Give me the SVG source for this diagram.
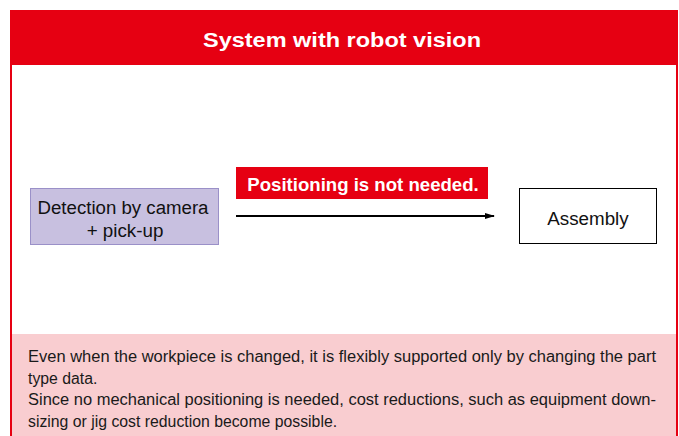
<svg xmlns="http://www.w3.org/2000/svg" width="679" height="436" viewBox="0 0 679 436">
<style>
text{font-family:"Liberation Sans",Arial,sans-serif}
.title{font-size:20px;font-weight:bold;fill:#fff}
.node{font-size:18.8px;fill:#111}
.lbl{font-size:18.6px;font-weight:bold;fill:#fff}
.body{font-size:15.8px;fill:#1a1a1a}
</style>
<defs>
<marker id="ah" markerWidth="10" markerHeight="8" refX="9" refY="4" orient="auto" markerUnits="userSpaceOnUse">
<path d="M0,1 L10,4 L0,7 Z" fill="#000"/>
</marker>
</defs>
<rect x="0" y="0" width="679" height="436" fill="#fff"/>
<g id="frame">
<rect x="11" y="11" width="666" height="440" fill="#fff" stroke="#E60012" stroke-width="2"/>
<rect x="10" y="10" width="668" height="55" fill="#E60012"/>
<text class="title" x="342" y="47" text-anchor="middle" textLength="278" lengthAdjust="spacingAndGlyphs">System with robot vision</text>
<rect x="12" y="334" width="664" height="102" fill="#F9CDD0"/>
</g>
<g id="node-detection">
<rect x="30.5" y="188.5" width="188" height="56" fill="#C8C0E0" stroke="#9A90C8" stroke-width="1"/>
<text class="node" x="123" y="214" text-anchor="middle" textLength="171" lengthAdjust="spacingAndGlyphs">Detection by camera</text>
<text class="node" x="125" y="237" text-anchor="middle">+ pick-up</text>
</g>
<g id="node-assembly">
<rect x="519.5" y="188.5" width="137" height="55" fill="#fff" stroke="#000" stroke-width="1"/>
<text class="node" x="588" y="225" text-anchor="middle">Assembly</text>
</g>
<g id="connectors">
<line x1="236" y1="216" x2="494" y2="216" stroke="#000" stroke-width="2" marker-end="url(#ah)"/>
<rect x="236" y="167" width="252" height="32" fill="#E60012"/>
<text class="lbl" x="363" y="191" text-anchor="middle">Positioning is not needed.</text>
</g>
<g id="notes">
<text class="body" x="28" y="362" textLength="628" lengthAdjust="spacingAndGlyphs">Even when the workpiece is changed, it is flexibly supported only by changing the part</text>
<text class="body" x="28" y="384">type data.</text>
<text class="body" x="28" y="405" textLength="628" lengthAdjust="spacingAndGlyphs">Since no mechanical positioning is needed, cost reductions, such as equipment down-</text>
<text class="body" x="28" y="427">sizing or jig cost reduction become possible.</text>
</g>
</svg>
